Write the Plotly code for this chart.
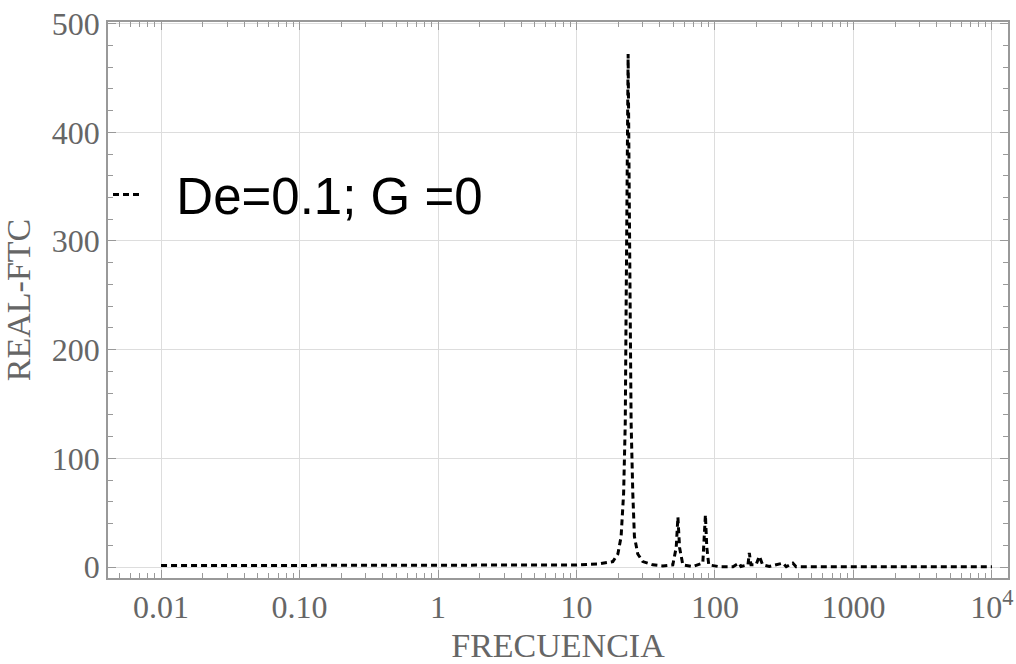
import plotly.graph_objects as go

# frequency (x) and real-FTC (y) values
freq = [0.01, 0.1, 1, 2.78, 10, 14.7, 18.3, 19.9, 21.0, 21.9, 22.5, 22.8, 23.2, 23.6,
        24.2, 24.8, 25.5, 26.2, 27.7, 30.1, 35.6, 42, 49.6, 52.5, 54, 55.5, 58.6, 69,
        81.7, 84, 85.3, 87.3, 90.2, 108, 135, 149, 154, 173, 177, 182, 198, 209, 221,
        247, 309, 327, 365, 385, 1000, 10000]
real_ftc = [1.3, 1.4, 1.5, 1.6, 1.9, 3, 5, 12, 28, 68, 133, 231, 362, 472,
            297, 133, 68, 28, 12, 5, 2, 1, 2, 18, 46, 18, 2, 0.5,
            3.6, 28, 48, 18, 2, 0.3, 0.3, 3.6, 0.5, 2, 13, 2, 2, 10, 2,
            0.5, 3.6, 0.3, 3.6, 0.3, 0.3, 0.3]

x_tickvals = [0.01, 0.1, 1, 10, 100, 1000, 10000]
x_ticktext = ["0.01", "0.10", "1", "10", "100", "1000", "10<sup>4</sup>"]
x_minor_vals = [m * 10.0 ** e for e in range(-3, 5) for m in range(2, 10)]
y_tickvals = [0, 100, 200, 300, 400, 500]

series_name = "\u00a0\u00a0De=0.1; G =0"

fig = go.Figure()
fig.add_trace(go.Scatter(
    x=freq, y=real_ftc, mode="lines", name=series_name,
    line=dict(color="black", width=3, dash="6px,4px"),
    showlegend=True,
))

axis_color = "#999999"
grid_color = "#dddddd"
tick_font = dict(family="Liberation Serif", size=32, color="#666666")
title_font = dict(family="Liberation Serif", size=34, color="#666666")

fig.update_xaxes(
    type="log", range=[-2.383, 4.116], automargin=False,
    tickvals=x_tickvals, ticktext=x_ticktext,
    ticks="inside", ticklen=8, tickcolor=axis_color, tickwidth=1,
    showline=True, linecolor=axis_color, linewidth=1.5, mirror="allticks",
    showgrid=True, gridcolor=grid_color, gridwidth=1,
    minor=dict(ticks="inside", ticklen=5, tickcolor=axis_color,
               tickvals=x_minor_vals, showgrid=False),
    tickfont=tick_font, zeroline=False,
    title=dict(text="FRECUENCIA", font=title_font, standoff=16),
)
fig.update_yaxes(
    range=[-10.1, 501.5], automargin=False,
    tickvals=y_tickvals,
    ticks="inside", ticklen=8, tickcolor=axis_color, tickwidth=1,
    showline=True, linecolor=axis_color, linewidth=1.5, mirror="allticks",
    showgrid=True, gridcolor=grid_color, gridwidth=1,
    minor=dict(ticks="inside", ticklen=5, tickcolor=axis_color, dtick=20, showgrid=False),
    tickfont=tick_font, zeroline=False,
    title=dict(text="REAL-FTC", font=title_font, standoff=14),
)

fig.update_layout(
    width=1016, height=664,
    margin=dict(l=108, r=8, t=22, b=86),
    paper_bgcolor="white", plot_bgcolor="white",
    legend=dict(
        x=0.0, y=0.689, xanchor="left", yanchor="middle",
        bgcolor="rgba(0,0,0,0)", borderwidth=0,
        font=dict(family="Liberation Sans", size=51, color="black"),
    ),
    showlegend=True,
)

fig.write_html("out.html")
